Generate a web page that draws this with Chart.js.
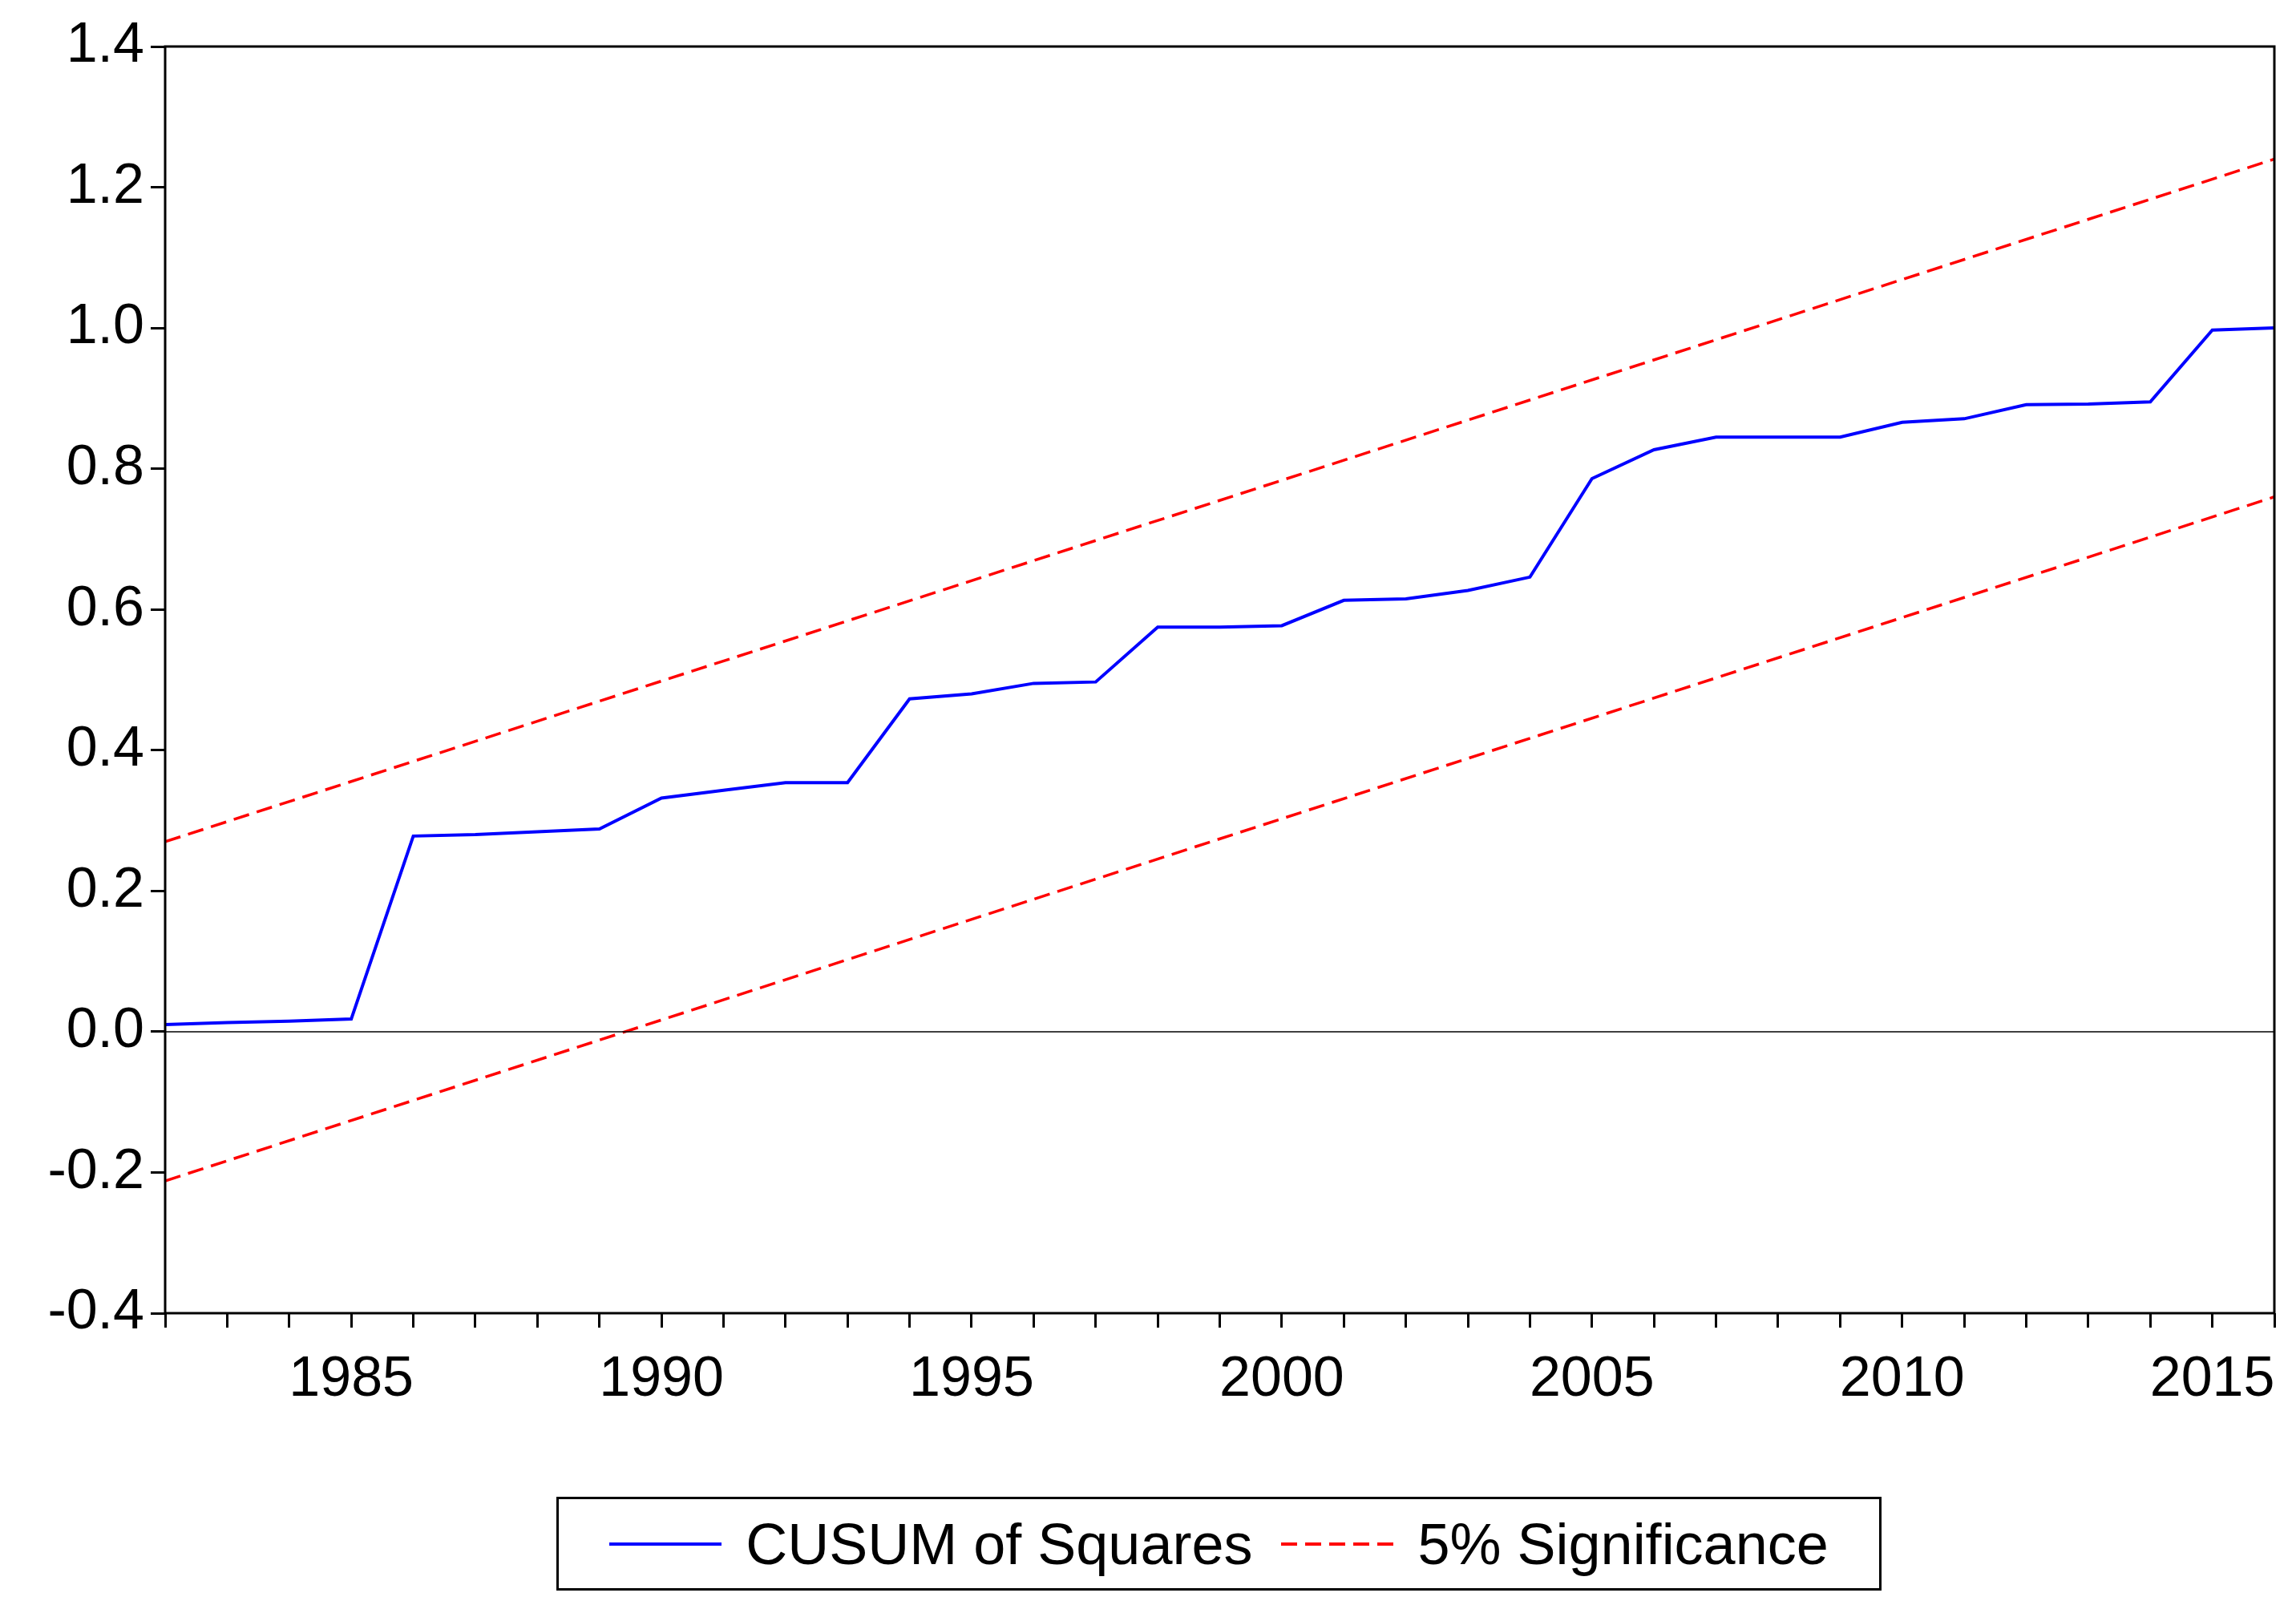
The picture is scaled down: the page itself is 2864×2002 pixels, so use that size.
<!DOCTYPE html>
<html><head><meta charset="utf-8">
<script src="https://cdn.jsdelivr.net/npm/chart.js@4/dist/chart.umd.min.js"></script>
<style>
html,body{margin:0;padding:0;background:#fff;}
#wrap{position:relative;width:2864px;height:2002px;}
#legend{position:absolute;left:694px;top:1867px;width:1653px;height:117px;box-sizing:border-box;border:3px solid #000;display:flex;align-items:center;justify-content:center;font-family:"Liberation Sans",Arial,sans-serif;font-size:72px;color:#000;}
.item{display:flex;align-items:center;margin:0 18px;}
.sw{width:140px;height:4px;margin-right:30px;}
</style></head><body>
<div id="wrap"><canvas id="c" width="2864" height="2002"></canvas>
<div id="legend">
<div class="item"><div class="sw" style="background:#0000ff"></div>CUSUM of Squares</div>
<div class="item"><div class="sw" style="background:repeating-linear-gradient(90deg,#ff0000 0 20px,transparent 20px 30px)"></div>5% Significance</div>
</div></div>
<script>
const years=[1982,1983,1984,1985,1986,1987,1988,1989,1990,1991,1992,1993,1994,1995,1996,1997,1998,1999,2000,2001,2002,2003,2004,2005,2006,2007,2008,2009,2010,2011,2012,2013,2014,2015,2016];
const cusumSq=[0.010,0.013,0.015,0.018,0.278,0.280,0.284,0.288,0.332,0.343,0.354,0.354,0.473,0.480,0.495,0.497,0.575,0.575,0.577,0.613,0.615,0.627,0.646,0.786,0.827,0.845,0.845,0.845,0.866,0.871,0.891,0.892,0.895,0.997,1.000];
const boundYears=[1982,2016];
const upper=[0.270,1.240];
const lower=[-0.212,0.760];
const yTicks=[-0.4,-0.2,0.0,0.2,0.4,0.6,0.8,1.0,1.2,1.4];

const pts=(xs,ys)=>xs.map((x,i)=>({x:x,y:ys[i]}));
const frame={id:'frame',afterDraw(ch){const a=ch.chartArea,c=ch.ctx;c.save();
 const y0=ch.scales.y.getPixelForValue(0);c.strokeStyle='#000';c.lineWidth=1.5;c.beginPath();c.moveTo(a.left,y0);c.lineTo(a.right,y0);c.stroke();
 c.lineWidth=3;c.strokeRect(a.left,a.top,a.right-a.left,a.bottom-a.top);c.restore();}};
const font={family:'"Liberation Sans",Arial,sans-serif',size:70};
new Chart(document.getElementById('c'),{
 type:'line',
 data:{datasets:[
  {data:pts(years,cusumSq),borderColor:'#0000ff',borderWidth:4,pointRadius:0,tension:0},
  {data:pts(boundYears,upper),borderColor:'#ff0000',borderWidth:3.5,borderDash:[20,10],pointRadius:0},
  {data:pts(boundYears,lower),borderColor:'#ff0000',borderWidth:3.5,borderDash:[20,10],pointRadius:0}]},
 options:{responsive:false,animation:false,events:[],
  layout:{padding:{top:58,right:27,bottom:224,left:0}},
  plugins:{legend:{display:false},tooltip:{enabled:false}},
  scales:{
   x:{type:'linear',min:1982,max:2016,border:{display:false},
    grid:{drawOnChartArea:false,tickLength:18,color:'#000',lineWidth:3},
    afterFit(s){s.height=140;},
    afterBuildTicks(s){s.ticks=years.map(v=>({value:v}));},
    ticks:{autoSkip:false,maxRotation:0,color:'#000',font:font,padding:24,callback:v=>v%5===0?String(v):''}},
   y:{min:-0.4,max:1.4,border:{display:false},
    grid:{drawOnChartArea:false,tickLength:18,color:'#000',lineWidth:3},
    afterFit(s){s.width=206;},
    afterBuildTicks(s){s.ticks=yTicks.map(v=>({value:v}));},
    ticks:{color:'#000',font:font,padding:8,callback:v=>v.toFixed(1)}}}},
 plugins:[frame]});
</script></body></html>
